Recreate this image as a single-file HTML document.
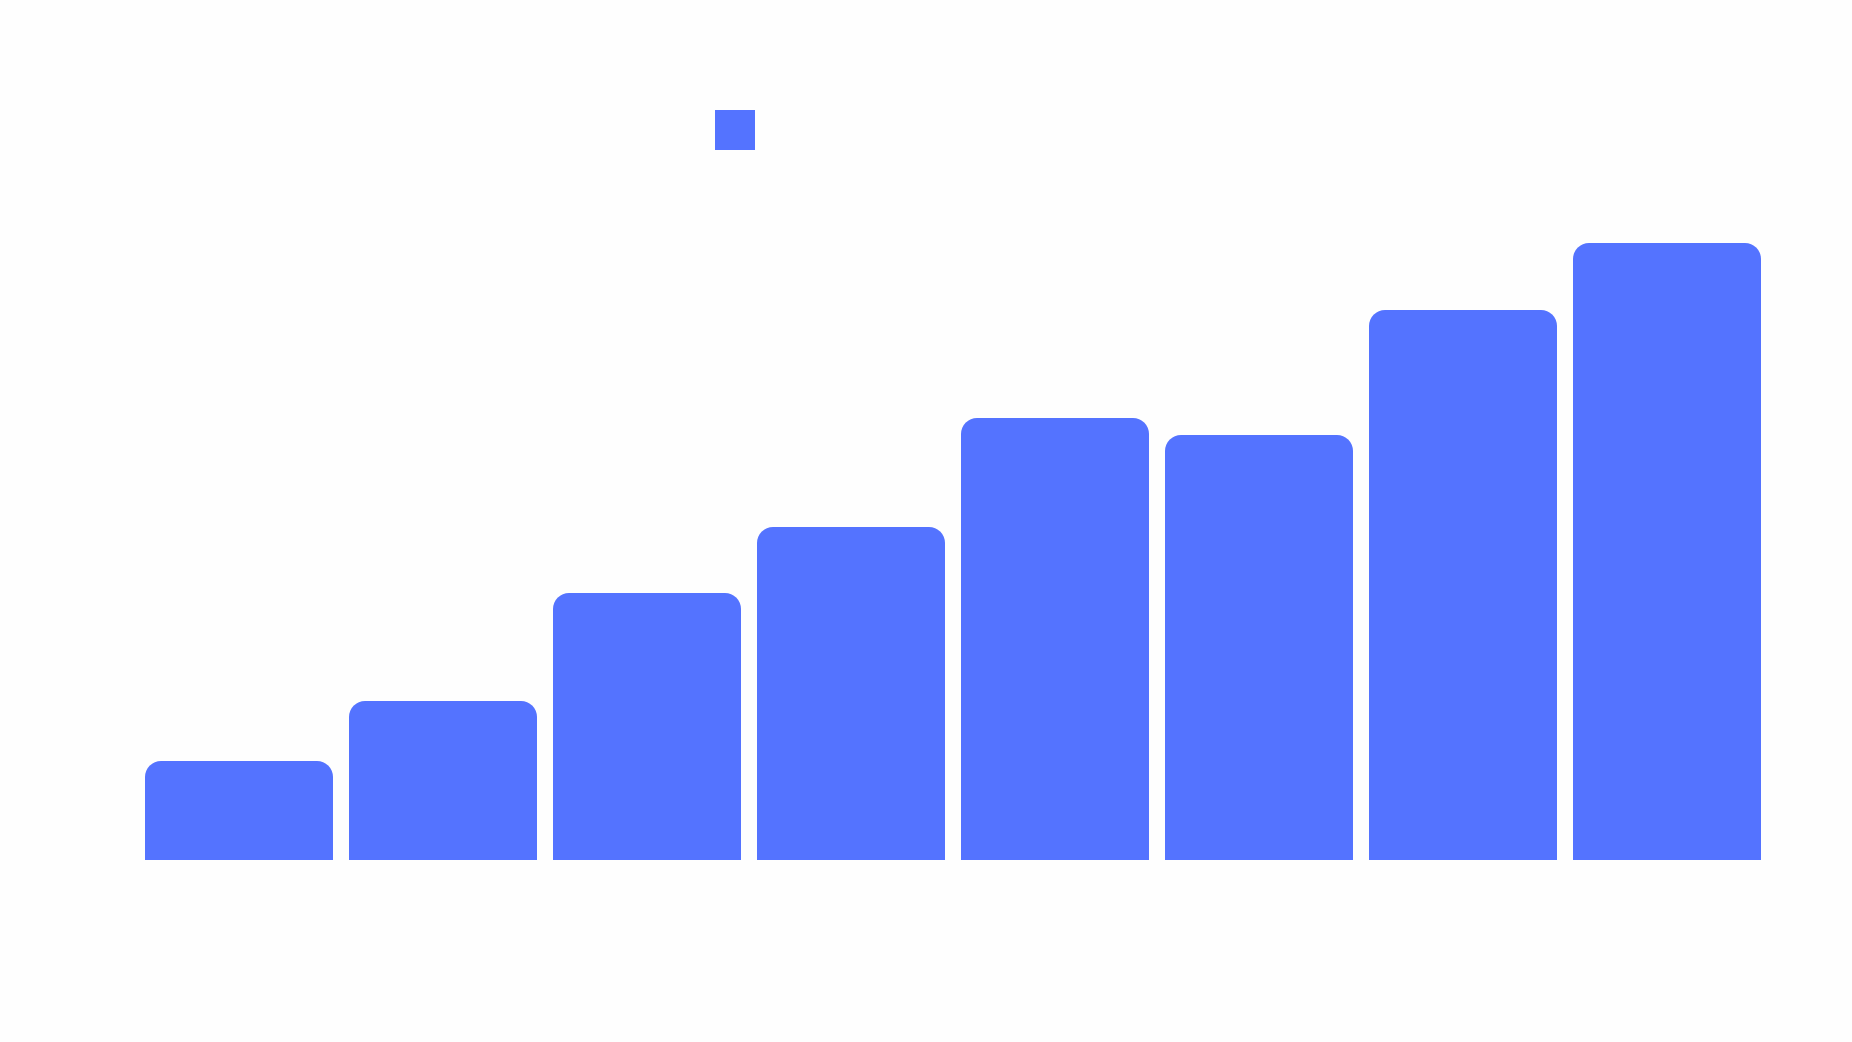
<!DOCTYPE html>
<html><head><meta charset="utf-8"><style>
html,body{margin:0;padding:0;background:#fefefe;}
body{width:1852px;height:1042px;position:relative;overflow:hidden;}
.b{position:absolute;background:#5473ff;border-radius:16px 16px 0 0;width:188px;}
.l{position:absolute;left:715px;top:110px;width:40px;height:40px;background:#5473ff;}
</style></head><body>
<div class="l"></div>
<div class="b" style="left:145px;top:761px;height:99px"></div>
<div class="b" style="left:349px;top:701px;height:159px"></div>
<div class="b" style="left:553px;top:593px;height:267px"></div>
<div class="b" style="left:757px;top:527px;height:333px"></div>
<div class="b" style="left:961px;top:418px;height:442px"></div>
<div class="b" style="left:1165px;top:435px;height:425px"></div>
<div class="b" style="left:1369px;top:310px;height:550px"></div>
<div class="b" style="left:1573px;top:243px;height:617px"></div>
</body></html>
